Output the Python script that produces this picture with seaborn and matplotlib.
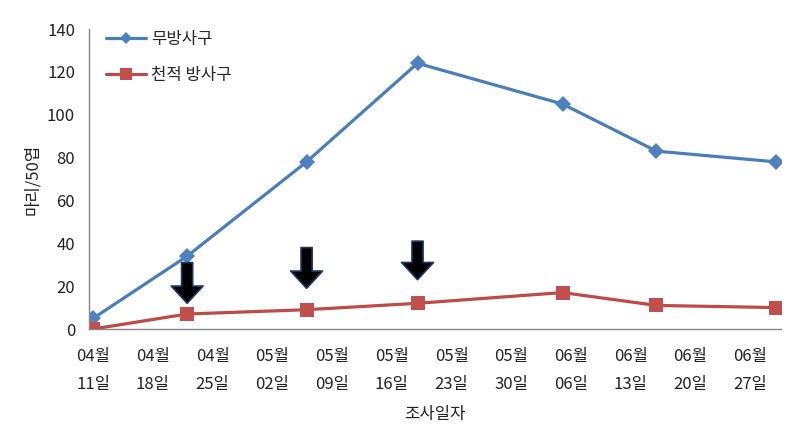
import matplotlib
matplotlib.use("Agg")
import matplotlib.pyplot as plt
import matplotlib.dates as mdates
import seaborn as sns
import pandas as pd
from matplotlib.lines import Line2D

# ---- data ----
survey_dates = ["04-11", "04-22", "05-06", "05-19", "06-05", "06-16", "06-30"]
series_names = ["무방사구", "천적 방사구"]
no_release = [5, 34, 78, 124, 105, 83, 78]
natural_enemy = [0, 7, 9, 12, 17, 11, 10]

tick_dates = ["04-11", "04-18", "04-25", "05-02", "05-09", "05-16",
              "05-23", "05-30", "06-06", "06-13", "06-20", "06-27"]
tick_labels = ["04월\n11일", "04월\n18일", "04월\n25일", "05월\n02일", "05월\n09일", "05월\n16일",
               "05월\n23일", "05월\n30일", "06월\n06일", "06월\n13일", "06월\n20일", "06월\n27일"]
y_ticks = [0, 20, 40, 60, 80, 100, 120, 140]

# release arrows (date, top, tip)
arrow_dates = ["04-22", "05-06", "05-19"]
arrow_top = [31, 38, 41]
arrow_tip = [12, 19, 23]

YEAR = "2012-"
def to_dt(lst):
    return pd.to_datetime([YEAR + d for d in lst])

df = pd.DataFrame({
    "date": list(to_dt(survey_dates)) * 2,
    "count": no_release + natural_enemy,
    "series": [series_names[0]] * len(no_release) + [series_names[1]] * len(natural_enemy),
})

sns.set_style("white")
plt.rcParams["font.family"] = ["Noto Sans CJK KR", "DejaVu Sans"]

fig = plt.figure(figsize=(7.93, 4.38), dpi=100)
ax = fig.add_axes([89 / 793, 1 - 329 / 438, (781 - 89) / 793, 300 / 438])

BLUE_L, BLUE_M = "#4A7EBB", "#4F81BD"
RED_L, RED_M = "#BE4B48", "#C0504D"
palette = {series_names[0]: BLUE_L, series_names[1]: RED_L}
sns.lineplot(data=df, x="date", y="count", hue="series", style="series",
             markers={series_names[0]: "D", series_names[1]: "s"}, dashes=False,
             palette=palette, linewidth=2.3, markersize=8, markeredgewidth=0,
             ax=ax, legend=False)
lines = ax.get_lines()
lines[0].set_markerfacecolor(BLUE_M)
lines[1].set_markerfacecolor(RED_M)
lines[0].set_markersize(8)
lines[1].set_markersize(10)

# arrows
for d, t, b in zip(to_dt(arrow_dates), arrow_top, arrow_tip):
    xd = mdates.date2num(d)
    ax.annotate("", xy=(xd, b), xytext=(xd, t),
                arrowprops=dict(arrowstyle="simple,head_length=0.62,head_width=1.15,tail_width=0.4",
                                fc="black", ec="#1F3864", lw=1.2, mutation_scale=20,
                                shrinkA=0, shrinkB=0))

tick_pos = mdates.date2num(to_dt(tick_dates))
start = tick_pos[0]
ax.set_xlim(start - 0.5, start + 80.6)
ax.set_ylim(0, 140)
# tick marks between dates, labels centred on dates
ax.set_xticks([p - 0.5 for p in tick_pos[1:]])
ax.set_xticklabels([])
ax.set_xticks(tick_pos, minor=True)
ax.set_xticklabels(tick_labels, minor=True, linespacing=1.85)
ax.set_yticks(y_ticks)
ax.set_yticklabels([str(v) for v in y_ticks])

for s in ["top", "right"]:
    ax.spines[s].set_visible(False)
for s in ["left", "bottom"]:
    ax.spines[s].set_color("#868686")
    ax.spines[s].set_linewidth(1.0)
ax.tick_params(axis="both", which="major", direction="out", length=5, width=1,
               color="#868686", labelsize=12, labelcolor="#222222")
ax.tick_params(axis="x", which="minor", length=0, pad=14, labelsize=12, labelcolor="#222222")
ax.tick_params(axis="y", pad=5)

ax.set_xlabel("조사일자", fontsize=12, color="#222222", labelpad=9)
ax.set_ylabel("마리/50엽", fontsize=12, color="#222222", labelpad=4)

handles = [
    Line2D([], [], color=BLUE_L, lw=2.3, marker="D", markersize=6.5, markerfacecolor=BLUE_M, markeredgewidth=0),
    Line2D([], [], color=RED_L, lw=2.3, marker="s", markersize=8.5, markerfacecolor=RED_M, markeredgewidth=0),
]
ax.legend(handles, series_names, loc="upper left", bbox_to_anchor=(0.003, 1.045), frameon=False,
          fontsize=12, handlelength=2.4, handletextpad=0.3, labelspacing=1.15)

fig.savefig("out.png", dpi=100)
